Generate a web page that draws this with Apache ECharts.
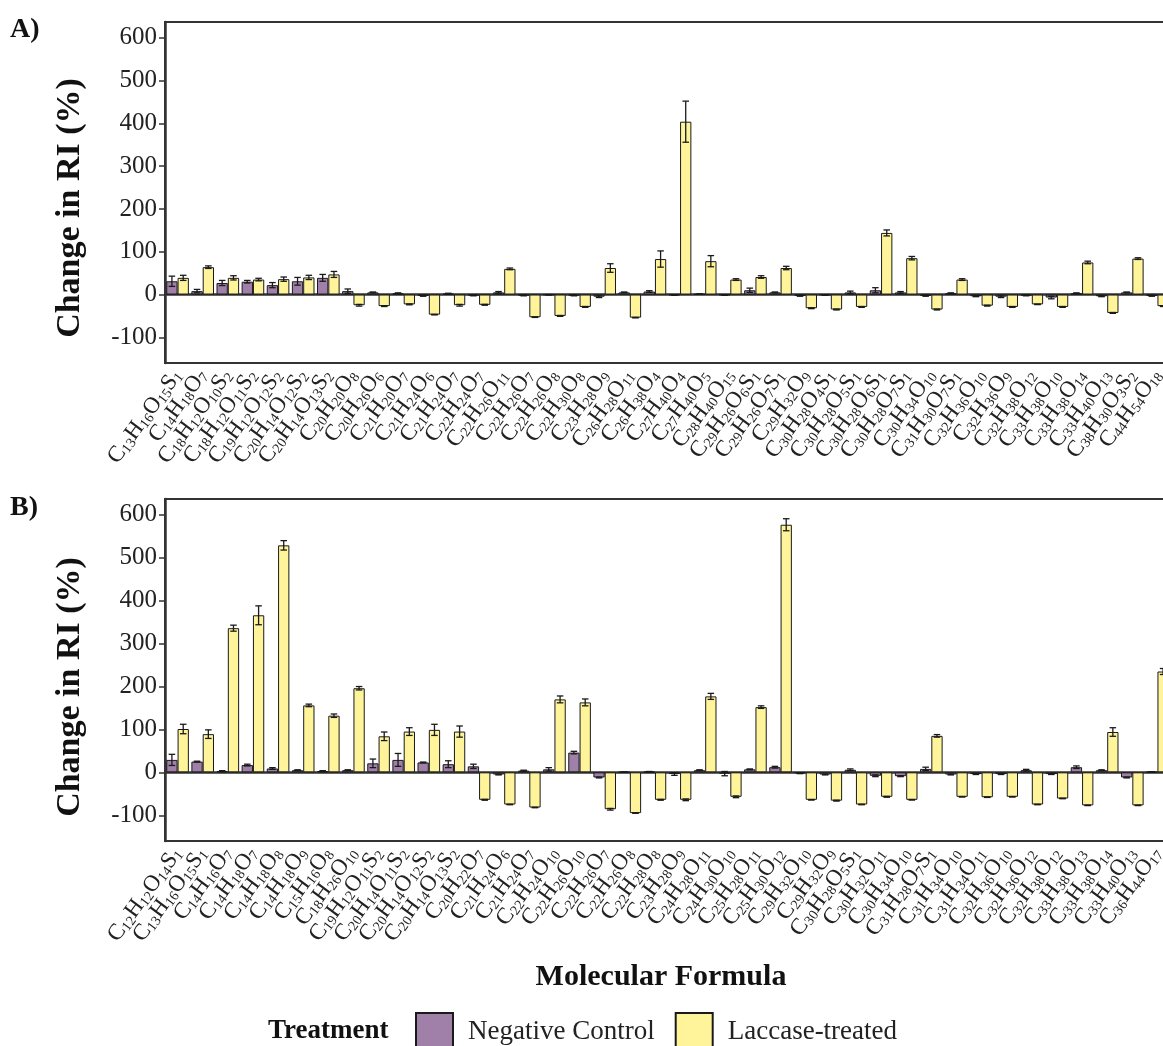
<!DOCTYPE html>
<html>
<head>
<meta charset="utf-8">
<script src="https://cdn.jsdelivr.net/npm/echarts@6/dist/echarts.min.js"></script>
<style>
  html, body { margin: 0; padding: 0; background: #fff; overflow: hidden; }
  #chart { width: 1180px; height: 1046px; }
</style>
</head>
<body>
<div id="chart"></div>
<script>
// panel A
var catsA = ['C13H16O15S1','C14H18O7','C18H12O10S2','C18H12O11S2','C19H12O12S2','C20H14O12S2','C20H14O13S2','C20H20O8','C20H26O6','C21H20O7',
  'C21H24O6','C21H24O7','C22H24O7','C22H26O11','C22H26O7','C22H26O8','C22H30O8','C23H28O9','C26H28O11','C26H38O4',
  'C27H40O4','C27H40O5','C28H40O15','C29H26O6S1','C29H26O7S1','C29H32O9','C30H28O4S1','C30H28O5S1','C30H28O6S1','C30H28O7S1',
  'C30H34O10','C31H30O7S1','C32H36O10','C32H36O9','C32H38O12','C33H38O10','C33H38O14','C33H40O13','C38H30O3S2','C44H54O18'];
var negA    = [31, 8, 27, 30, 22, 31, 39, 8, 5, 3, -3, 2, -2, 5, -2, -0.5, -2, -5, 5, 7, -1, 1, -1, 10, 5, -3, -1, 5, 10, 5, -3, 3, -4, -5, -2, -7, 3, -4, 5, -3];
var negAerr = [12, 4, 6, 3, 6, 9, 8, 5, 1, 1, 1, 1, 1, 2, 1, 0.5, 1, 2, 1, 2, 0.5, 0.5, 0.5, 5, 1, 1, 0.5, 3, 6, 2, 1, 1, 1, 2, 1, 3, 1, 1, 1, 1];
var lacA    = [39, 64, 39, 35, 36, 40, 47, -25, -27, -23, -47, -25, -24, 60, -53, -50, -29, 62, -54, 83, 404, 78, 35, 41, 62, -32, -35, -29, 144, 85, -35, 35, -26, -29, -23, -29, 75, -43, 84, -27];
var lacAerr = [6, 3, 5, 3, 5, 5, 7, 2, 1, 1, 0.5, 2, 1, 2, 0.5, 1, 1, 10, 0.5, 19, 48, 13, 2, 3, 4, 1, 1, 1, 7, 4, 1, 2, 1, 1, 0.5, 1, 3, 1, 2, 1];

// panel B
var catsB = ['C12H12O14S1','C13H16O15S1','C14H16O7','C14H18O7','C14H18O8','C14H18O9','C15H16O8','C18H26O10','C19H12O11S2','C20H14O11S2',
  'C20H14O12S2','C20H14O13S2','C20H22O7','C21H24O6','C21H24O7','C22H24O10','C22H26O10','C22H26O7','C22H26O8','C22H28O8',
  'C23H28O9','C24H28O11','C24H30O10','C25H28O11','C25H30O12','C29H32O10','C29H32O9','C30H28O5S1','C30H32O11','C30H34O10',
  'C31H28O7S1','C31H34O10','C31H34O11','C32H36O10','C32H36O12','C32H38O12','C33H38O13','C33H38O14','C33H40O13','C36H44O17'];
var negB    = [29, 25, 3, 17, 9, 5, 3, 5, 21, 29, 23, 19, 14, -5, 4, 7, 46, -12, 0.5, 1.5, -4, 5, -3, 7, 12, -2, -5, 6, -8, -9, 8, -5, -4, -4, 5, -4, 12, 5, -12, 1];
var negBerr = [13, 1, 1, 2, 2, 1, 1, 1, 10, 15, 1, 8, 5, 1, 1, 4, 3, 1, 0.5, 0.5, 3, 1, 5, 1, 2, 1, 1, 2, 2, 1, 4, 1, 1, 1, 2, 1, 3, 1, 1, 0.5];
var lacB    = [101, 89, 336, 366, 529, 156, 132, 196, 84, 95, 99, 95, -64, -75, -82, 170, 163, -86, -95, -64, -64, 177, -57, 152, 577, -64, -66, -75, -57, -64, 85, -57, -58, -57, -75, -61, -77, 94, -77, 235];
var lacBerr = [11, 10, 7, 22, 11, 3, 4, 4, 10, 9, 13, 13, 1, 0.5, 0.5, 8, 8, 2, 0.5, 1, 2, 7, 2, 3, 14, 0.5, 1, 0.5, 1, 0.5, 3, 0.5, 0.5, 0.5, 0.5, 0.5, 0.5, 10, 0.5, 7];

var yTicks = [-100, 0, 100, 200, 300, 400, 500, 600];
var seriesNames = ['Negative Control', 'Laccase-treated'];

var FONT = 'Liberation Serif';
var PURPLE = '#a07fa9';
var YELLOW = '#fff49a';
var INK = '#222';

// C13H16O15S1 -> rich text with subscripts
function formula(v) {
  return v.replace(/([A-Z][a-z]?)(\d*)/g, function (all, el, n) {
    return '{m|' + el + '}' + (n ? '{s|' + n + '}' : '');
  });
}

function errBars(offset) {
  return function (params, api) {
    var i = api.value(0), m = api.value(1), e = api.value(2);
    var band = api.size([1, 0])[0];
    var cx = api.coord([i, 0])[0] + offset * band;
    var top = api.coord([i, m + e])[1];
    var bot = api.coord([i, m - e])[1];
    var hw = band * 0.13;
    var st = { stroke: '#1a1a1a', lineWidth: 1.3 };
    return {
      type: 'group',
      children: [
        { type: 'line', shape: { x1: cx, y1: top, x2: cx, y2: bot }, style: st },
        { type: 'line', shape: { x1: cx - hw, y1: top, x2: cx + hw, y2: top }, style: st },
        { type: 'line', shape: { x1: cx - hw, y1: bot, x2: cx + hw, y2: bot }, style: st }
      ]
    };
  };
}

function zip(vals, errs) {
  return vals.map(function (v, i) { return [i, v, errs[i]]; });
}

function xAxisOf(cats, idx) {
  return {
    type: 'category', gridIndex: idx, data: cats,
    axisLine: { lineStyle: { color: '#333', width: 2.5 } },
    axisTick: { alignWithLabel: true, length: 6, lineStyle: { color: '#333', width: 1.5 } },
    axisLabel: {
      interval: 0, rotate: 54, margin: 9, color: INK, formatter: formula,
      rich: {
        m: { fontFamily: FONT, fontSize: 23, color: INK, lineHeight: 23 },
        s: { fontFamily: FONT, fontSize: 14, color: INK, lineHeight: 6, verticalAlign: 'bottom' }
      }
    },
    splitLine: { show: false }
  };
}

function yAxisOf(idx) {
  return {
    type: 'value', gridIndex: idx, min: -160, max: 637,
    axisLine: { show: true, lineStyle: { color: '#333', width: 2.5 } },
    axisTick: { show: true, length: 6, customValues: yTicks, lineStyle: { color: '#333', width: 1.5 } },
    axisLabel: { customValues: yTicks, fontFamily: FONT, fontSize: 25, color: INK, margin: 8 },
    splitLine: { show: false }
  };
}

function barSeries(name, vals, color, idx) {
  return {
    name: name, type: 'bar', xAxisIndex: idx, yAxisIndex: idx, data: vals,
    barGap: '0%', barCategoryGap: '10%',
    itemStyle: { color: color, borderColor: '#1a1a1a', borderWidth: 1 },
    emphasis: { disabled: true }
  };
}

function errSeries(vals, errs, offset, idx) {
  return {
    type: 'custom', xAxisIndex: idx, yAxisIndex: idx, z: 5,
    data: zip(vals, errs), renderItem: errBars(offset),
    encode: { x: 0, y: 1 }, silent: true
  };
}

function yTitle(y) {
  return {
    type: 'text', x: 70, y: y, rotation: Math.PI / 2,
    style: { text: 'Change in RI (%)', font: 'bold 34px "Liberation Serif"', fill: '#111', align: 'center', verticalAlign: 'middle' }
  };
}

var chart = echarts.init(document.getElementById('chart'));
var option = {
  animation: false,
  backgroundColor: '#fff',
  grid: [
    { left: 165, top: 22, width: 1005, height: 341, containLabel: false, outerBoundsMode: 'none',
      show: true, borderColor: '#333', borderWidth: 2, backgroundColor: 'transparent' },
    { left: 165, top: 499, width: 1005, height: 342, containLabel: false, outerBoundsMode: 'none',
      show: true, borderColor: '#333', borderWidth: 2, backgroundColor: 'transparent' }
  ],
  xAxis: [xAxisOf(catsA, 0), xAxisOf(catsB, 1)],
  yAxis: [yAxisOf(0), yAxisOf(1)],
  legend: {
    left: 415, top: 1012, padding: 0, itemWidth: 37, itemHeight: 38, itemGap: 20,
    icon: 'rect', selectedMode: false,
    data: seriesNames,
    textStyle: { fontFamily: FONT, fontSize: 27, color: INK, padding: [0, 0, 0, 10] }
  },
  graphic: [
    { type: 'text', left: 10, top: 16, style: { text: 'A)', font: 'bold 28px "Liberation Serif"', fill: '#111' } },
    { type: 'text', left: 10, top: 494, style: { text: 'B)', font: 'bold 28px "Liberation Serif"', fill: '#111' } },
    yTitle(208),
    yTitle(687),
    { type: 'text', x: 661, y: 977, style: { text: 'Molecular Formula', font: 'bold 30px "Liberation Serif"', fill: '#111', align: 'center', verticalAlign: 'middle' } },
    { type: 'text', x: 268, y: 1031, style: { text: 'Treatment', font: 'bold 27px "Liberation Serif"', fill: '#111', verticalAlign: 'middle' } }
  ],
  series: [
    barSeries(seriesNames[0], negA, PURPLE, 0),
    barSeries(seriesNames[1], lacA, YELLOW, 0),
    errSeries(negA, negAerr, -0.225, 0),
    errSeries(lacA, lacAerr, 0.225, 0),
    barSeries(seriesNames[0], negB, PURPLE, 1),
    barSeries(seriesNames[1], lacB, YELLOW, 1),
    errSeries(negB, negBerr, -0.225, 1),
    errSeries(lacB, lacBerr, 0.225, 1)
  ]
};
chart.setOption(option);
</script>
</body>
</html>
